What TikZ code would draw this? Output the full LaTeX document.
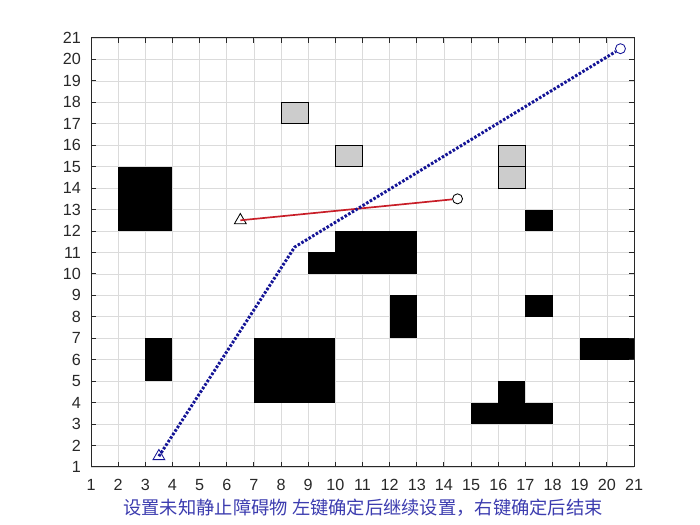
\documentclass[tikz,border=0pt]{standalone}
\usepackage{fontspec}
\setmainfont{Liberation Sans}
\newfontfamily\cjk{Noto Sans CJK SC}
\usetikzlibrary{shapes.geometric}

\definecolor{routeblue}{RGB}{20,20,150}
\definecolor{captionblue}{RGB}{60,60,175}
\definecolor{linkred}{RGB}{200,30,40}
\definecolor{axisgray}{RGB}{40,40,40}

\begin{document}
\begin{tikzpicture}[
    x=0.67875cm, y=0.53625cm,
    gridline/.style={draw=gray!28, line width=0.5pt},
    axisline/.style={draw=axisgray, line width=0.7pt},
    obst/.style={fill=black},
    known/.style={draw=black, fill=gray!40, line width=0.6pt},
    ticklabel/.style={font=\fontsize{11.5}{13}\selectfont, text=axisgray, inner sep=0pt},
    route/.style={draw=routeblue, line width=2.1pt, dash pattern=on 1.8pt off 1.2pt},
    link/.style={draw=linkred, line width=1.2pt},
    trimark/.style={draw, regular polygon, regular polygon sides=3, minimum size=0.34cm, inner sep=0pt, line width=0.6pt},
    circmark/.style={draw, circle, minimum size=0.25cm, inner sep=0pt, line width=0.6pt}
]
\useasboundingbox (-2.352,-1.704) rectangle (23.43,22.77);

% grid
\foreach \i in {1,...,21} {
  \draw[gridline] (\i,1) -- (\i,21);
  \draw[gridline] (1,\i) -- (21,\i);
}

% unknown obstacles
\fill[obst] (2,12) rectangle (4,15);
\fill[obst] (3,5) rectangle (4,7);
\fill[obst] (7,4) rectangle (10,7);
\fill[obst] (10,11) rectangle (13,12);
\fill[obst] (9,10) rectangle (13,11);
\fill[obst] (12,7) rectangle (13,9);
\fill[obst] (17,12) rectangle (18,13);
\fill[obst] (17,8) rectangle (18,9);
\fill[obst] (19,6) rectangle (21,7);
\fill[obst] (15,3) rectangle (18,4);
\fill[obst] (16,4) rectangle (17,5);

% known obstacles
\draw[known] (8,17) rectangle (9,18);
\draw[known] (10,15) rectangle (11,16);
\draw[known] (16,15) rectangle (17,16);
\draw[known] (16,14) rectangle (17,15);

% axes box and ticks
\draw[axisline] (1,1) rectangle (21,21);
\foreach \i in {1,...,21} {
  \draw[axisline] (\i,1) -- ++(0,0.23);
  \draw[axisline] (\i,21) -- ++(0,-0.23);
  \draw[axisline] (1,\i) -- ++(0.18,0);
  \draw[axisline] (21,\i) -- ++(-0.18,0);
  \node[ticklabel] (xl\i) at (\i,0.16) {\i};
  \node[ticklabel, anchor=east] (yl\i) at (0.64,\i) {\i};
}

% moving obstacle
\node[trimark, draw=black] (obsA) at (6.5,12.5) {};
\node[circmark, draw=black] (obsB) at (14.5,13.5) {};
\draw[link] (obsA.center) -- (obsB);

% planned route
\node[trimark, draw=routeblue] (start) at (3.5,1.5) {};
\node[circmark, draw=routeblue] (goal) at (20.5,20.5) {};
\coordinate (bendA) at (8.5,11.25);
\coordinate (bendB) at (9.6,12.1);
\draw[route] (start.center) -- (bendA) -- (bendB) -- (goal);

% caption
\node[text=captionblue, font=\cjk\fontsize{13}{15}\selectfont] (caption) at (11.02,-0.91)
  {设置未知静止障碍物 左键确定后继续设置，右键确定后结束};

\end{tikzpicture}
\end{document}
